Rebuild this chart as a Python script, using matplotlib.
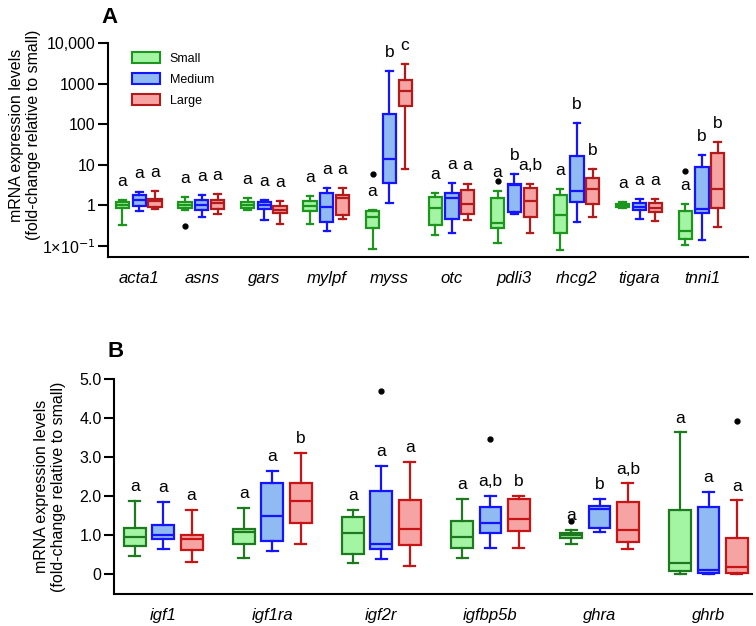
import matplotlib
matplotlib.use("Agg")
import matplotlib.pyplot as plt
from matplotlib.patches import Patch
from matplotlib.ticker import FixedLocator, NullLocator

plt.rcParams['font.family'] = ['Liberation Sans', 'DejaVu Sans']

# ---- panel A data: (whisker low, Q1, median, Q3, whisker high) ----
genes_a = ['acta1', 'asns', 'gars', 'mylpf', 'myss', 'otc', 'pdli3', 'rhcg2', 'tigara', 'tnni1']
a_small = [(0.32, 0.84, 1.0, 1.2, 1.33), (0.75, 0.86, 1.04, 1.2, 1.6), (0.75, 0.88, 1.0, 1.19, 1.49),
           (0.34, 0.72, 0.96, 1.25, 1.7), (0.085, 0.27, 0.51, 0.72, 0.78), (0.19, 0.32, 0.88, 1.6, 2.06),
           (0.117, 0.28, 0.37, 1.55, 2.25), (0.081, 0.21, 0.59, 1.84, 2.48), (0.88, 0.93, 1.0, 1.06, 1.2),
           (0.103, 0.145, 0.23, 0.72, 1.06)]
a_medium = [(0.72, 0.94, 1.33, 1.8, 2.1), (0.5, 0.75, 1.04, 1.38, 1.8), (0.43, 0.83, 1.0, 1.2, 1.33),
            (0.23, 0.39, 0.91, 2.06, 2.73), (1.17, 3.55, 13.9, 183, 2080), (0.21, 0.45, 1.55, 2.0, 3.63),
            (0.6, 0.68, 3.1, 3.43, 6.06), (0.39, 1.2, 2.25, 16.5, 110), (0.47, 0.75, 0.91, 1.14, 1.46),
            (0.137, 0.66, 0.83, 8.8, 17.1)]
a_large = [(0.8, 0.9, 1.25, 1.46, 2.25), (0.62, 0.83, 1.17, 1.38, 1.95), (0.34, 0.65, 0.78, 0.94, 1.25),
           (0.45, 0.59, 1.55, 1.77, 2.68), (7.7, 278, 660, 1230, 3020), (0.43, 0.6, 1.1, 2.44, 3.3),
           (0.21, 0.51, 1.28, 2.68, 3.43), (0.51, 1.06, 2.48, 4.8, 8.05), (0.41, 0.68, 0.88, 1.14, 1.46),
           (0.29, 0.88, 2.48, 20, 36.5)]
# outliers keyed by (gene index, group index)
a_outliers = {(1, 0): [0.31], (4, 0): [6.0], (6, 0): [3.9], (9, 0): [6.9]}
a_letters = [('a', 'a', 'a'), ('a', 'a', 'a'), ('a', 'a', 'a'), ('a', 'a', 'a'), ('a', 'b', 'c'),
             ('a', 'a', 'a'), ('a', 'b', 'a,b'), ('a', 'b', 'b'), ('a', 'a', 'a'), ('a', 'b', 'b')]

# ---- panel B data ----
genes_b = ['igf1', 'igf1ra', 'igf2r', 'igfbp5b', 'ghra', 'ghrb']
b_small = [(0.47, 0.71, 0.95, 1.19, 1.88), (0.41, 0.77, 1.08, 1.15, 1.69), (0.28, 0.52, 1.05, 1.45, 1.65),
           (0.41, 0.67, 0.96, 1.35, 1.92), (0.77, 0.92, 0.99, 1.05, 1.13), (0.01, 0.07, 0.28, 1.65, 3.63)]
b_medium = [(0.64, 0.9, 1.0, 1.25, 1.85), (0.58, 0.85, 1.48, 2.32, 2.65), (0.38, 0.64, 0.77, 2.14, 2.77),
            (0.67, 1.05, 1.31, 1.72, 2.0), (1.07, 1.17, 1.67, 1.75, 1.93), (0.01, 0.03, 0.11, 1.72, 2.10)]
b_large = [(0.30, 0.61, 0.9, 1.01, 1.65), (0.78, 1.32, 1.88, 2.32, 3.10), (0.20, 0.75, 1.15, 1.89, 2.88),
           (0.67, 1.11, 1.42, 1.92, 2.01), (0.65, 0.83, 1.13, 1.84, 2.32), (0.01, 0.03, 0.17, 0.92, 1.89)]
b_outliers = {(4, 0): [1.37], (2, 1): [4.68], (3, 1): [3.45], (5, 2): [3.92]}
b_letters = [('a', 'a', 'a'), ('a', 'a', 'b'), ('a', 'a', 'a'), ('a', 'a,b', 'b'), ('a', 'b', 'a,b'), ('a', 'a', 'a')]

group_names = ['Small', 'Medium', 'Large']
fills = ['#a3f5a3', '#8fbaf2', '#f5a3a3']
edges_a = ['#1c961c', '#1414ff', '#b41a1a']
edges_b = ['#1e7a1e', '#1414ff', '#c81414']


def draw_panel(ax, groups, outliers, letters, edges, offsets, width, letter_pad):
    for g, data in enumerate(groups):
        stats = []
        pos = []
        for i, (lo, q1, med, q3, hi) in enumerate(data):
            stats.append(dict(whislo=lo, q1=q1, med=med, q3=q3, whishi=hi,
                              fliers=outliers.get((i, g), [])))
            pos.append(i + offsets[g])
        c = edges[g]
        ax.bxp(stats, positions=pos, widths=width, patch_artist=True, showfliers=True,
               capwidths=width * 0.5,
               boxprops=dict(facecolor=fills[g], edgecolor=c, linewidth=1.6),
               medianprops=dict(color=c, linewidth=1.6),
               whiskerprops=dict(color=c, linewidth=1.6),
               capprops=dict(color=c, linewidth=1.6),
               flierprops=dict(marker='o', markerfacecolor='black', markeredgecolor='black',
                               markersize=3.5))
        for i, row in enumerate(data):
            ax.annotate(letters[i][g], (pos[i], row[4]), xytext=(0, letter_pad),
                        textcoords='offset points', ha='center', va='baseline', fontsize=12.5)


def style_axis(ax, genes):
    for s in ['top', 'right']:
        ax.spines[s].set_visible(False)
    for s in ['left', 'bottom']:
        ax.spines[s].set_linewidth(1.5)
    ax.set_xticks(range(len(genes)))
    ax.set_xticklabels(genes, fontstyle='italic', fontsize=12)
    ax.tick_params(axis='x', length=0, pad=10)
    ax.tick_params(axis='y', length=7, width=1.5, labelsize=11.5, pad=2)


fig = plt.figure(figsize=(7.56, 6.26), dpi=100)
ax_a = fig.add_axes([0.143, 0.5895, 0.846, 0.3415])
ax_b = fig.add_axes([0.151, 0.051, 0.844, 0.344])

draw_panel(ax_a, [a_small, a_medium, a_large], a_outliers, a_letters, edges_a,
           [-0.27, 0.0, 0.25], 0.21, 10)
ax_a.set_yscale('log')
ax_a.set_ylim(0.053, 10000)
ax_a.set_xlim(-0.5, 9.73)
ax_a.yaxis.set_major_locator(FixedLocator([0.1, 1, 10, 100, 1000, 10000]))
ax_a.yaxis.set_minor_locator(NullLocator())
ax_a.set_yticklabels(['1×10$^{-1}$', '1', '10', '100', '1000', '10,000'])
style_axis(ax_a, genes_a)
ax_a.set_ylabel('mRNA expression levels\n(fold-change relative to small)', fontsize=11.5)
ax_a.yaxis.set_label_coords(-0.105, 0.57)
ax_a.legend([Patch(facecolor=fills[k], edgecolor=edges_a[k], linewidth=1.5) for k in range(3)],
            group_names, loc='upper left', bbox_to_anchor=(0.02, 1.01), frameon=False,
            fontsize=9, handlelength=2.2, handleheight=1.0, labelspacing=0.65, handletextpad=0.8)
ax_a.text(-0.01, 1.07, 'A', transform=ax_a.transAxes, fontsize=16, fontweight='bold',
          ha='left', va='bottom')

draw_panel(ax_b, [b_small, b_medium, b_large], b_outliers, b_letters, edges_b,
           [-0.26, 0.0, 0.26], 0.2, 7)
ax_b.set_ylim(-0.51, 5.0)
ax_b.set_xlim(-0.45, 5.4)
ax_b.set_yticks([0, 1, 2, 3, 4, 5])
ax_b.set_yticklabels(['0', '1.0', '2.0', '3.0', '4.0', '5.0'])
style_axis(ax_b, genes_b)
ax_b.set_ylabel('mRNA expression levels\n(fold-change relative to small)', fontsize=11.5)
ax_b.yaxis.set_label_coords(-0.075, 0.5)
ax_b.text(-0.01, 1.08, 'B', transform=ax_b.transAxes, fontsize=16, fontweight='bold',
          ha='left', va='bottom')

fig.savefig('out.png', dpi=100)
